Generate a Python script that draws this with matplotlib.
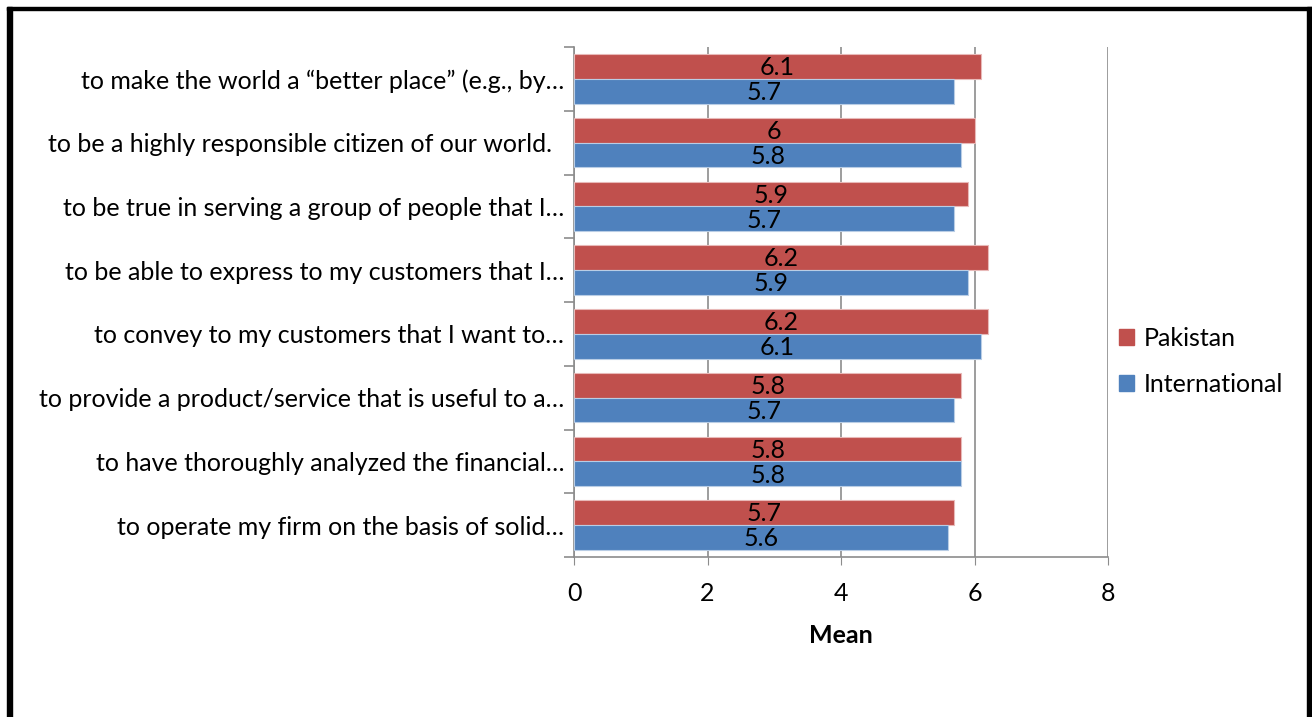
import numpy as np
import matplotlib
matplotlib.use("Agg")
import matplotlib.pyplot as plt
from matplotlib.patches import Rectangle, Patch

plt.rcParams["font.family"] = ["Lato", "DejaVu Sans"]

# statements, listed top to bottom
labels = [
    "to make the world a \u201cbetter place\u201d (e.g., by\u2026",
    "to be a highly responsible citizen of our world.  ",
    "to be true in serving a group of people that I\u2026",
    "to be able to express to my customers that I\u2026",
    "to convey to my customers that I want to\u2026",
    "to provide a product/service that is useful to a\u2026",
    "to have thoroughly analyzed the financial\u2026",
    "to operate my firm on the basis of solid\u2026",
]
pakistan = [6.1, 6.0, 5.9, 6.2, 6.2, 5.8, 5.8, 5.7]
international = [5.7, 5.8, 5.7, 5.9, 6.1, 5.7, 5.8, 5.6]

RED = "#C0504D"
BLUE = "#4F81BD"
GRID = "#8C8C8C"
FS = 18

fig = plt.figure(figsize=(13.12, 7.17), dpi=100)
ax = fig.add_axes([574 / 1312, 1 - 557 / 717, 534 / 1312, 510 / 717])

n = len(labels)
y = np.arange(n)[::-1]  # first statement at the top
h = 0.39
bp = ax.barh(y + h / 2, pakistan, height=h, color=RED, edgecolor="#E8B9B8", linewidth=0.8, zorder=3)
bi = ax.barh(y - h / 2, international, height=h, color=BLUE, edgecolor="#B9CDE5", linewidth=0.8, zorder=3)

for bars, vals in [(bp, pakistan), (bi, international)]:
    for b, v in zip(bars, vals):
        ax.text(v / 2, b.get_y() + b.get_height() / 2 - 0.02, f"{v:g}", ha="center", va="center",
                fontsize=FS, color="black", zorder=4)

ax.set_xlim(0, 8)
ax.set_ylim(-0.5, n - 0.5)
ax.set_xticks([0, 2, 4, 6, 8])
ax.tick_params(axis="x", length=6, color=GRID, labelsize=FS, pad=12)
ax.set_yticks(y)
ax.set_yticklabels(labels, fontsize=FS)
ax.tick_params(axis="y", which="major", length=0, pad=7)
ax.set_yticks(np.arange(n + 1) - 0.5, minor=True)
ax.tick_params(axis="y", which="minor", length=7, color=GRID, width=1.2)

ax.xaxis.grid(True, color=GRID, linewidth=1.2, zorder=0)
for s in ["top", "right"]:
    ax.spines[s].set_visible(False)
for s in ["left", "bottom"]:
    ax.spines[s].set_color(GRID)
    ax.spines[s].set_linewidth(1.2)

ax.set_xlabel("Mean", fontsize=FS, fontweight="bold", labelpad=14)

fig.legend(handles=[Patch(color=RED, label="Pakistan"), Patch(color=BLUE, label="International")],
           loc="center left", bbox_to_anchor=(1096 / 1312, 0.496), frameon=False,
           fontsize=FS, handlelength=0.6, handleheight=0.6, handletextpad=0.4,
           labelspacing=0.9)

# frame around the chart
W, H = 1312, 717
fig.patches.append(Rectangle((7 / W, 0), 5 / W, 1 - 7 / H, transform=fig.transFigure,
                             color="black", zorder=10))
fig.patches.append(Rectangle((7 / W, 1 - 10 / H), 1 - 7 / W, 3 / H, transform=fig.transFigure,
                             color="black", zorder=10))
fig.patches.append(Rectangle((1307 / W, 0), 5 / W, 1 - 7 / H, transform=fig.transFigure,
                             color="black", zorder=10))

fig.savefig("out.png", dpi=100)
